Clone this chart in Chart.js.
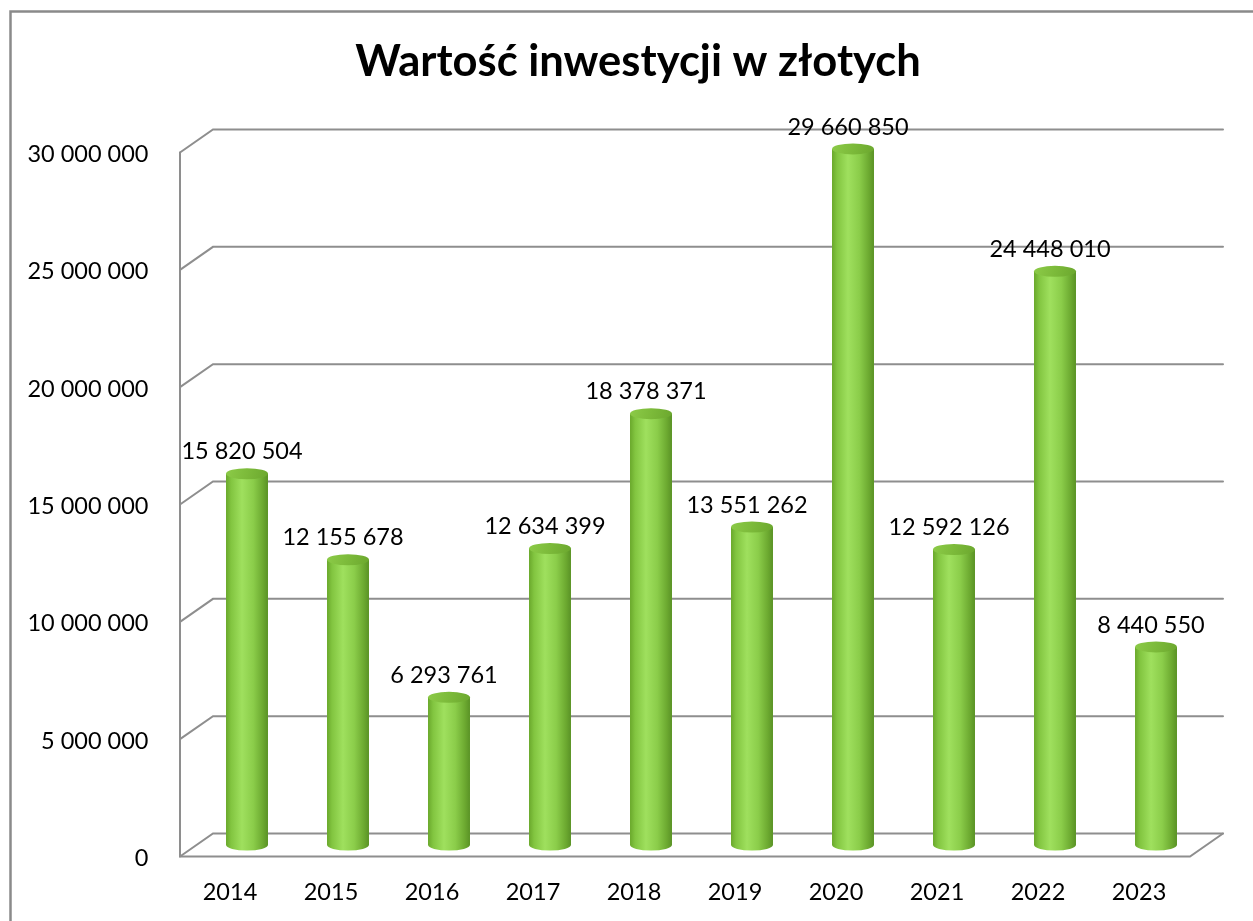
<!DOCTYPE html>
<html>
<head>
<meta charset="utf-8">
<script src="https://cdn.jsdelivr.net/npm/chart.js@4"></script>
<style>
  html, body { margin: 0; padding: 0; background: #fff; overflow: hidden; }
  #wrap { width: 1253px; height: 921px; }
</style>
</head>
<body>
<div id="wrap"><canvas id="inwestycje" width="1253" height="921"></canvas></div>
<script>
// dane z wykresu
const tytul = 'Wartość inwestycji w złotych';
const lata = ['2014', '2015', '2016', '2017', '2018', '2019', '2020', '2021', '2022', '2023'];
const wartosci = [15820504, 12155678, 6293761, 12634399, 18378371, 13551262, 29660850, 12592126, 24448010, 8440550];
const osY = [0, 5000000, 10000000, 15000000, 20000000, 25000000, 30000000];

const DX = 16.5, DY = 11.5; // przesuniecie glebokosci 3D
const szary = '#8e8e8e';

function formatuj(v) {
    return String(Math.round(v)).replace(/\B(?=(\d{3})+(?!\d))/g, ' ');
}

// siatka 3D, ramka, tytul i walce
const efekt3d = {
    id: 'efekt3d',
    beforeDraw(chart) {
        const c = chart.ctx;
        c.save();
        c.strokeStyle = '#8a8a8a';
        c.lineWidth = 2.5;
        c.strokeRect(10.5, 11.5, 1400, 1100);
        c.fillStyle = '#000';
        c.font = 'bold 43.5px Lato';
        c.textAlign = 'center';
        c.textBaseline = 'middle';
        c.fillText(tytul, 638, 62);
        c.restore();
    },
    beforeDatasetsDraw(chart) {
        const c = chart.ctx;
        const a = chart.chartArea;
        const y = chart.scales.y;
        c.save();
        c.strokeStyle = szary;
        c.lineWidth = 2;
        c.lineCap = 'round';
        osY.forEach(function (v) {
            const py = y.getPixelForValue(v);
            c.beginPath();
            c.moveTo(a.left - DX, py + DY);
            c.lineTo(a.left + DX, py - DY);
            c.lineTo(a.right + DX, py - DY);
            c.stroke();
        });
        const top = y.getPixelForValue(osY[osY.length - 1]);
        const base = y.getPixelForValue(0);
        c.beginPath();
        c.moveTo(a.left - DX, top + DY);
        c.lineTo(a.left - DX, base + DY);
        c.lineTo(a.right - DX, base + DY);
        c.lineTo(a.right + DX, base - DY);
        c.stroke();
        c.restore();
    },
    afterDatasetsDraw(chart) {
        const c = chart.ctx;
        const meta = chart.getDatasetMeta(0);
        c.save();
        meta.data.forEach(function (bar, i) {
            const w = bar.width;
            const x0 = bar.x - w / 2, x1 = bar.x + w / 2;
            const top = bar.y, base = bar.base;
            const ry = 5.5;
            const g = c.createLinearGradient(x0, 0, x1, 0);
            g.addColorStop(0, '#6aa82c');
            g.addColorStop(0.12, '#82c540');
            g.addColorStop(0.38, '#9fe05e');
            g.addColorStop(0.65, '#8bcd4a');
            g.addColorStop(0.88, '#6ca930');
            g.addColorStop(1, '#5a9226');
            c.fillStyle = g;
            c.beginPath();
            c.moveTo(x0, top);
            c.lineTo(x0, base);
            c.ellipse(bar.x, base, w / 2, ry, 0, Math.PI, 0, true);
            c.lineTo(x1, top);
            c.closePath();
            c.fill();
            // wieczko
            const gt = c.createLinearGradient(x0, top - ry, x1, top + ry);
            gt.addColorStop(0, '#8ccb48');
            gt.addColorStop(0.5, '#7cba3a');
            gt.addColorStop(1, '#6ba72e');
            c.fillStyle = gt;
            c.beginPath();
            c.ellipse(bar.x, top, w / 2, ry, 0, 0, Math.PI * 2);
            c.fill();
            // etykieta
            c.fillStyle = '#000';
            c.font = '23.5px Lato';
            c.textAlign = 'center';
            c.textBaseline = 'middle';
            c.fillText(formatuj(wartosci[i]), bar.x - 5, top - 22);
        });
        c.restore();
    }
};

const ctx = document.getElementById('inwestycje').getContext('2d');
new Chart(ctx, {
    type: 'bar',
    data: {
        labels: lata,
        datasets: [{
            data: wartosci,
            backgroundColor: '#8dd04c',
            barPercentage: 0.83,
            categoryPercentage: 0.5
        }]
    },
    options: {
        responsive: false,
        animation: false,
        layout: { padding: { left: 0, right: 46.5, top: 141, bottom: 0 } },
        plugins: {
            legend: { display: false },
            tooltip: { enabled: false },
            title: { display: false }
        },
        scales: {
            x: {
                grid: { display: false },
                border: { display: false },
                ticks: { color: '#000', font: { family: 'Lato', size: 23.5 }, padding: 25, labelOffset: -17 },
                afterFit(s) { s.height = 76; }
            },
            y: {
                min: 0,
                max: 30000000,
                grid: { display: false },
                border: { display: false },
                afterBuildTicks(s) { s.ticks = osY.map(function (v) { return { value: v }; }); },
                ticks: {
                    color: '#000',
                    font: { family: 'Lato', size: 23.5 },
                    padding: 40,
                    labelOffset: 13.5,
                    callback: function (v) { return formatuj(v); }
                },
                afterFit(s) { s.width = 196.5; }
            }
        }
    },
    plugins: [efekt3d]
});
</script>
</body>
</html>
